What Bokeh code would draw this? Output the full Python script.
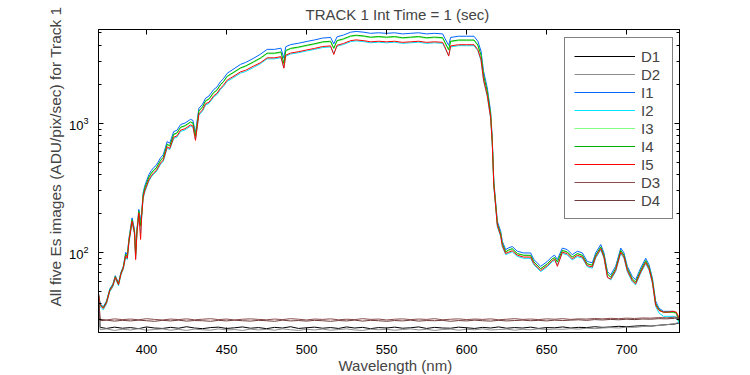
from bokeh.plotting import figure
from bokeh.models import Legend, LegendItem, LogAxis, LinearAxis, FixedTicker, Title, Range1d
from bokeh.embed import file_html
from bokeh.resources import INLINE

FONT = "Liberation Sans"

# ---------------- data ----------------
wavelength = [
    370, 371, 373, 375, 377, 379, 380.5, 382.5, 384, 385.5,
    387, 388, 389, 391, 392.5, 393.2, 394, 395.2, 396.3, 397,
    397.9, 399, 401.5, 403, 404.6, 406, 408.8, 410.5, 412.9, 414.5,
    417, 419, 421.3, 424, 427.5, 429, 430.6, 432.7, 435, 436.9,
    439, 442, 444, 446.3, 448, 450.4, 454, 458.8, 462, 467,
    471, 475.4, 480, 484, 485.8, 487, 490, 495, 500.4, 505,
    510, 515, 517, 519, 523, 527.5, 531, 535.8, 540, 545,
    550, 555, 560, 565, 570, 575, 580, 585, 586.5, 588.8,
    590, 595, 600, 604.6, 607, 609, 610.6, 612.9, 615, 616,
    617, 618.1, 619.2, 621.3, 622.3, 624.4, 626, 628.5, 631.7, 635.6,
    640, 642, 646.3, 650.4, 653.5, 655, 656.7, 659.8, 662.9, 666,
    669.2, 672.3, 675.4, 678.5, 680.6, 683.8, 685.8, 688, 690, 693.1,
    696.3, 698.3, 700.4, 703.5, 705.6, 708.8, 711.9, 714, 716.1, 718.1,
    720.2, 723, 726, 729, 731, 733,
]

I1 = [
    48, 40, 38, 42, 52, 57, 66, 58, 70, 78,
    100, 96, 128, 185, 150, 100, 150, 215, 175, 205,
    290, 330, 400, 430, 455, 470, 540, 570, 720, 700,
    860, 880, 975, 1000, 1070, 1050, 840, 1300, 1400, 1560,
    1620, 1820, 1900, 2100, 2200, 2430, 2600, 2850, 2950, 3180,
    3400, 3720, 3720, 3800, 3180, 3900, 4050, 4150, 4290, 4400,
    4550, 4600, 4100, 4650, 4800, 5050, 5120, 5050, 4950, 5000,
    4950, 5000, 4900, 4950, 5000, 4900, 4950, 4900, 4500, 4000,
    4600, 4700, 4700, 4700, 4300, 3600, 2510, 1870, 1230, 770,
    354, 248, 174, 145, 122, 105, 108, 111, 102, 99,
    99, 88, 78, 85, 93, 95, 88, 108, 105, 96,
    102, 99, 85, 83, 99, 115, 99, 71, 67, 78,
    108, 99, 78, 65, 61.5, 76, 90, 80, 63, 42,
    37, 35, 35, 35, 34, 28,
]

I2 = [
    45.6, 38, 36, 39.9, 49.4, 54.2, 62.7, 55.1, 66.5, 74.1,
    92, 88, 118, 170, 138, 90, 138, 198, 140, 189,
    261, 295, 356, 383, 405, 418, 481, 507, 641, 623,
    761, 779, 863, 885, 947, 929, 745, 1151, 1239, 1381,
    1418, 1593, 1663, 1827, 1914, 2102, 2236, 2437, 2507, 2703,
    2873, 3143, 3143, 3211, 2690, 3296, 3422, 3507, 3625, 3718,
    3845, 3887, 3450, 3929, 4056, 4267, 4326, 4267, 4183, 4225,
    4183, 4225, 4141, 4183, 4225, 4141, 4183, 4141, 3803, 3350,
    3887, 3972, 3972, 3972, 3634, 3042, 2121, 1610, 1085, 693,
    322, 226, 158, 132, 111, 96, 98, 101, 93, 90,
    90, 80, 71, 77.4, 84.6, 86.5, 80, 98.3, 95.6, 87.4,
    92.8, 90.1, 77.4, 75.5, 90.1, 104.7, 90.1, 64.6, 61, 71,
    98.3, 90.1, 71, 59.2, 56, 69.2, 81.9, 72.8, 57.3, 38.2,
    34, 32, 32, 32, 31.5, 28,
]

I3 = [
    46.8, 39, 37, 41, 50.7, 55.6, 64.4, 56.6, 68.3, 76,
    96, 92, 123, 177, 144, 95, 144, 206, 158, 197,
    276, 314, 378, 406, 430, 444, 510, 539, 680, 661,
    813, 832, 921, 945, 1011, 992, 790, 1229, 1323, 1474,
    1523, 1711, 1786, 1974, 2068, 2284, 2431, 2651, 2744, 2957,
    3145, 3441, 3441, 3515, 2870, 3608, 3746, 3839, 3968, 4070,
    4209, 4255, 3760, 4301, 4440, 4671, 4736, 4671, 4579, 4625,
    4579, 4625, 4533, 4579, 4625, 4533, 4579, 4533, 4163, 3660,
    4255, 4348, 4348, 4348, 3978, 3330, 2322, 1749, 1156, 724,
    338, 237, 166, 138, 117, 100, 103, 106, 97, 95,
    94.5, 84, 74.5, 81.2, 88.8, 90.7, 84, 103, 100.3, 91.7,
    97.4, 94.5, 81.2, 79.3, 94.5, 109.8, 94.5, 67.8, 64, 74.5,
    103, 94.5, 74.5, 62, 58.7, 72.6, 86, 76.4, 60.2, 40.1,
    35.8, 34.3, 34.3, 34.3, 33.8, 29,
]

I4 = [
    47, 39.4, 37.4, 41.4, 51.2, 56.1, 65, 57.1, 69, 76.8,
    97, 93, 124, 179, 145, 96, 145, 208, 160, 199,
    279, 318, 383, 411, 435, 449, 516, 545, 688, 669,
    821, 840, 931, 955, 1022, 1003, 800, 1242, 1337, 1490,
    1539, 1729, 1805, 1995, 2090, 2309, 2457, 2679, 2773, 2989,
    3179, 3478, 3478, 3553, 2900, 3647, 3787, 3880, 4011, 4114,
    4254, 4301, 3800, 4348, 4488, 4722, 4787, 4722, 4628, 4675,
    4628, 4675, 4582, 4628, 4675, 4582, 4628, 4582, 4208, 3700,
    4301, 4395, 4395, 4395, 4021, 3366, 2347, 1768, 1169, 732,
    340, 238, 167, 139, 117, 101, 104, 107, 98, 95,
    95, 84.5, 74.9, 81.6, 89.3, 91.2, 84.5, 103.7, 100.8, 92.2,
    97.9, 95, 81.6, 79.7, 95, 110.4, 95, 68.2, 64.3, 74.9,
    103.7, 95, 74.9, 62.4, 59, 73, 86.4, 76.8, 60.5, 40.3,
    36, 34.5, 34.5, 34.5, 34, 29,
]

I5 = [
    48, 39, 36.9, 40.7, 50.4, 55.3, 64, 56.3, 67.9, 75.7,
    94, 90, 120, 174, 141, 88, 141, 202, 126, 193,
    268, 302, 364, 391, 414, 428, 491, 519, 655, 637,
    778, 796, 882, 905, 968, 950, 735, 1177, 1267, 1412,
    1450, 1629, 1700, 1869, 1958, 2151, 2288, 2494, 2566, 2767,
    2924, 3199, 3199, 3268, 2660, 3354, 3483, 3569, 3689, 3784,
    3913, 3956, 3400, 3999, 4128, 4343, 4403, 4343, 4257, 4300,
    4257, 4300, 4214, 4257, 4300, 4214, 4257, 4214, 3870, 3300,
    3956, 4042, 4042, 4042, 3698, 3096, 2159, 1640, 1107, 708,
    329, 231, 162, 135, 113, 98, 100, 103, 95, 92,
    92, 81.8, 72.5, 79, 86.5, 88.4, 78, 100.4, 97.7, 89.3,
    94.9, 92.1, 79, 77.2, 92.1, 107, 92.1, 64, 62.3, 72.5,
    100.4, 92.1, 72.5, 60.5, 57.2, 70.7, 83.7, 74.4, 58.6, 39.1,
    35.5, 34.5, 34.5, 35, 34.5, 31,
]

dark_wavelength = [370, 371] + list(range(375, 731, 5)) + [733]

D1 = [
    45, 26.3, 25.8, 26.4, 25.9, 26.2, 25.7, 26.5, 26.0, 25.8,
    26.3, 25.9, 26.6, 26.0, 25.7, 26.2, 26.4, 25.8, 26.1, 26.5,
    25.9, 26.2, 25.7, 26.3, 26.0, 26.6, 25.8, 26.1, 26.4, 25.9,
    26.2, 25.8, 26.5, 26.0, 26.3, 25.7, 26.2, 26.0, 26.4, 25.9,
    26.1, 26.5, 25.8, 26.3, 26.0, 25.9, 26.4, 26.1, 25.8, 26.3,
    26.0, 26.5, 25.9, 26.2, 26.0, 26.4, 25.8, 26.2, 26.1, 26.5,
    26.0, 26.3, 26.2, 26.6, 26.3, 26.5, 26.8, 26.6, 26.9, 27.1,
    26.9, 27.3, 27.6, 27.9, 28.5,
]
D2 = [
    44, 25.2, 25.6, 24.9, 25.4, 25.1, 25.7, 25.0, 25.3, 25.6,
    25.0, 25.4, 24.9, 25.5, 25.2, 25.0, 25.6, 25.1, 25.3, 24.9,
    25.5, 25.1, 25.4, 25.0, 25.6, 25.2, 24.9, 25.4, 25.1, 25.5,
    25.0, 25.3, 25.6, 25.1, 24.9, 25.5, 25.2, 25.4, 25.0, 25.3,
    25.6, 25.1, 25.4, 24.9, 25.3, 25.5, 25.0, 25.4, 25.2, 25.6,
    25.1, 25.3, 25.5, 25.0, 25.4, 25.2, 25.6, 25.3, 25.5, 25.4,
    25.7, 25.5, 25.9, 25.7, 26.0, 26.2, 26.0, 26.4, 26.3, 26.7,
    26.9, 27.2, 27.6, 28.1, 28.8,
]
D3 = [
    46, 30.4, 30.0, 30.6, 30.2, 30.5, 30.1, 30.7, 30.3, 30.0,
    30.5, 30.2, 30.6, 30.1, 30.4, 30.7, 30.2, 30.5, 30.0, 30.4,
    30.6, 30.3, 30.1, 30.5, 30.2, 30.7, 30.4, 30.0, 30.5, 30.3,
    30.6, 30.1, 30.4, 30.2, 30.7, 30.3, 30.5, 30.0, 30.4, 30.6,
    30.2, 30.5, 30.3, 30.7, 30.1, 30.4, 30.6, 30.2, 30.5, 30.3,
    30.6, 30.1, 30.4, 30.7, 30.3, 30.5, 30.2, 30.6, 30.4, 30.7,
    30.3, 30.6, 30.5, 30.8, 30.6, 30.9, 30.7, 31.0, 30.8, 31.1,
    31.0, 31.3, 31.2, 31.5, 31.4,
]
D4 = [
    47, 29.6, 29.9, 29.4, 29.8, 29.5, 29.9, 29.6, 29.3, 29.8,
    29.5, 29.9, 29.4, 29.7, 29.6, 29.3, 29.8, 29.5, 29.9, 29.6,
    29.4, 29.8, 29.6, 29.3, 29.9, 29.5, 29.7, 29.4, 29.8, 29.6,
    29.3, 29.7, 29.5, 29.9, 29.4, 29.8, 29.6, 29.3, 29.7, 29.5,
    29.9, 29.4, 29.7, 29.6, 29.8, 29.3, 29.7, 29.5, 29.9, 29.6,
    29.4, 29.8, 29.5, 29.7, 29.9, 29.6, 29.8, 29.5, 29.9, 29.7,
    29.9, 30.1, 29.8, 30.2, 30.0, 30.3, 30.1, 30.4, 30.2, 30.5,
    30.4, 30.7, 30.6, 30.9, 31.0,
]

series_names = ["D1", "D2", "I1", "I2", "I3", "I4", "I5", "D3", "D4"]
series_colors = ["#000000", "#8c8c8c", "#0066ff", "#00e5ff", "#80ff80",
                 "#00b000", "#ff0000", "#8a4c4c", "#6e3c3c"]

x_ticks = [400, 450, 500, 550, 600, 650, 700]
y_ticks = [100, 1000]
y_minor_ticks = [m * 10 ** e for e in (1, 2, 3) for m in range(2, 10)]

title_text = "TRACK 1  Int Time = 1 (sec)"
x_label = "Wavelength (nm)"
y_label = "All five Es images (ADU/pix/sec) for Track 1"

# ---------------- figure ----------------
p = figure(frame_width=581, frame_height=303,
           x_range=Range1d(370, 733), y_range=Range1d(24, 5300),
           y_axis_type="log", output_backend="svg", toolbar_location=None,
           min_border_left=98, min_border_right=40, min_border_top=28,
           min_border_bottom=44, background_fill_color="white",
           border_fill_color="white")
p.grid.visible = False
p.outline_line_color = "black"
p.outline_line_width = 1

p.title.text = title_text
p.title.align = "left"
p.title.offset = 207
p.title.text_font = FONT
p.title.text_font_size = "15px"
p.title.text_font_style = "normal"
p.title.vertical_align = "top"
p.title.standoff = 10


def style_axis(ax, labels=True):
    ax.axis_line_color = "black"
    ax.major_tick_in = 5
    ax.major_tick_out = 0
    ax.minor_tick_in = 3
    ax.minor_tick_out = 0
    ax.major_tick_line_color = "black"
    ax.minor_tick_line_color = "black"
    ax.major_label_text_font = FONT
    ax.major_label_text_font_size = "13px"
    ax.major_label_text_color = "black"
    if not labels:
        ax.major_label_text_font_size = "1px"
        ax.major_label_text_color = None
        ax.major_label_standoff = 0


style_axis(p.xaxis[0])
p.xaxis[0].ticker = FixedTicker(ticks=x_ticks)
p.xaxis[0].minor_tick_line_color = None
p.xaxis[0].major_label_standoff = 12

style_axis(p.yaxis[0])
p.yaxis[0].ticker = FixedTicker(ticks=y_ticks, minor_ticks=y_minor_ticks)
p.yaxis[0].major_label_standoff = 10

top_axis = LinearAxis(ticker=FixedTicker(ticks=x_ticks))
style_axis(top_axis, labels=False)
top_axis.minor_tick_line_color = None
p.add_layout(top_axis, "above")

right_axis = LogAxis(ticker=FixedTicker(ticks=y_ticks, minor_ticks=y_minor_ticks))
style_axis(right_axis, labels=False)
p.add_layout(right_axis, "right")

p.add_layout(Title(text=x_label, align="left", offset=240, text_font=FONT,
                   text_font_size="15px", text_font_style="normal",
                   standoff=-3), "below")
p.add_layout(Title(text=y_label, align="left", offset=26, text_font=FONT,
                   text_font_size="15.5px", text_font_style="normal",
                   standoff=3), "left")

data = {"D1": (dark_wavelength, D1), "D2": (dark_wavelength, D2),
        "I1": (wavelength, I1), "I2": (wavelength, I2), "I3": (wavelength, I3),
        "I4": (wavelength, I4), "I5": (wavelength, I5),
        "D3": (dark_wavelength, D3), "D4": (dark_wavelength, D4)}

items = []
for name, color in zip(series_names, series_colors):
    xs, ys = data[name]
    r = p.line(xs, ys, line_color=color, line_width=1)
    items.append(LegendItem(label=name, renderers=[r]))

legend = Legend(items=items, location=(466, 113), label_text_font=FONT,
                label_text_font_size="15px", glyph_width=61, glyph_height=18,
                label_height=18, label_width=22, label_standoff=6, padding=9,
                spacing=0, margin=0, border_line_color="black",
                border_line_width=1, background_fill_color="white",
                background_fill_alpha=1)
p.add_layout(legend)

open("out.html", "w").write(file_html(p, INLINE))
